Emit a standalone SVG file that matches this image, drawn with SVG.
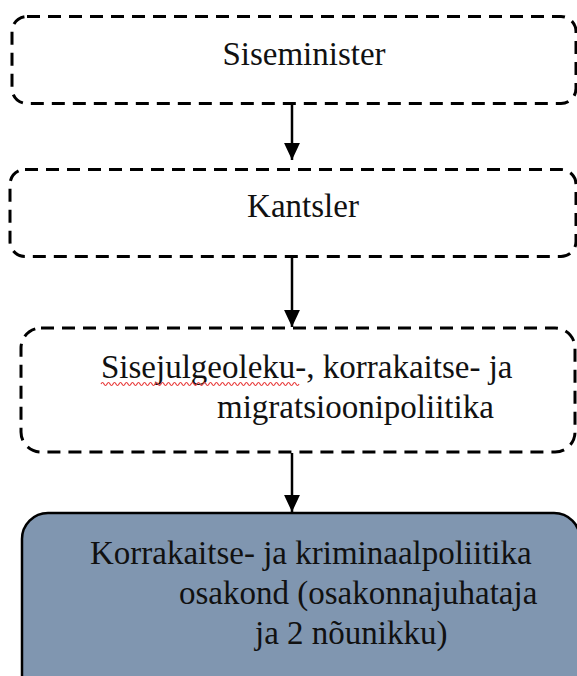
<svg xmlns="http://www.w3.org/2000/svg" width="577" height="676" viewBox="0 0 577 676">
<style>
.dash{fill:#ffffff;stroke:#000;stroke-width:3;stroke-dasharray:13 8}
.solid{fill:#8096b0;stroke:#000;stroke-width:2.5}
.c{stroke:#000;stroke-width:2.5;fill:none}
.t{font-family:'Liberation Serif','Times New Roman',Tinos,serif;font-size:33px;fill:#111}
</style>
<defs>
<marker id="ah" markerWidth="7" markerHeight="7.5" refX="7.5" refY="3.5" orient="auto" markerUnits="strokeWidth" viewBox="0 0 7.5 7">
<path d="M0,0 L7.5,3.5 L0,7 z" fill="#000"/>
</marker>
</defs>
<rect width="577" height="676" fill="#fff"/>
<g id="n1">
<rect class="dash" x="12" y="16.5" width="564" height="87" rx="15"/>
<text class="t" x="304" y="65" text-anchor="middle">Siseminister</text>
</g>
<g id="n2">
<rect class="dash" x="10" y="169.5" width="566" height="87" rx="15"/>
<text class="t" x="303" y="217" text-anchor="middle">Kantsler</text>
</g>
<g id="n3">
<rect class="dash" x="21" y="328" width="554" height="124" rx="20"/>
<text class="t" x="101" y="378">Sisejulgeoleku-, korrakaitse- ja</text>
<text class="t" x="217" y="418">migratsioonipoliitika</text>
<path d="M101,384 q1.5,-3 3,0 t3,0 t3,0 t3,0 t3,0 t3,0 t3,0 t3,0 t3,0 t3,0 t3,0 t3,0 t3,0 t3,0 t3,0 t3,0 t3,0 t3,0 t3,0 t3,0 t3,0 t3,0 t3,0 t3,0 t3,0 t3,0 t3,0 t3,0 t3,0 t3,0 t3,0 t3,0 t3,0 t3,0 t3,0 t3,0 t3,0 t3,0 t3,0 t3,0 t3,0 t3,0 t3,0 t3,0 t3,0 t3,0 t3,0 t3,0 t3,0 t3,0 t3,0 t3,0 t3,0 t3,0 t3,0 t3,0 t3,0 t3,0 t3,0 t3,0 t3,0 t3,0 t3,0 t3,0 t3,0 t3,0" fill="none" stroke="#e83a3a" stroke-width="1.2"/>
</g>
<g id="n4">
<rect class="solid" x="22" y="513" width="558" height="200" rx="26"/>
<text class="t" x="90" y="564">Korrakaitse- ja kriminaalpoliitika</text>
<text class="t" x="179" y="604">osakond (osakonnajuhataja</text>
<text class="t" x="255" y="644">ja 2 nõunikku)</text>
</g>
<g id="connectors">
<line class="c" x1="292" y1="104" x2="292" y2="160" marker-end="url(#ah)"/>
<line class="c" x1="292" y1="257" x2="292" y2="327" marker-end="url(#ah)"/>
<line class="c" x1="292" y1="453" x2="292" y2="512" marker-end="url(#ah)"/>
</g>
</svg>
